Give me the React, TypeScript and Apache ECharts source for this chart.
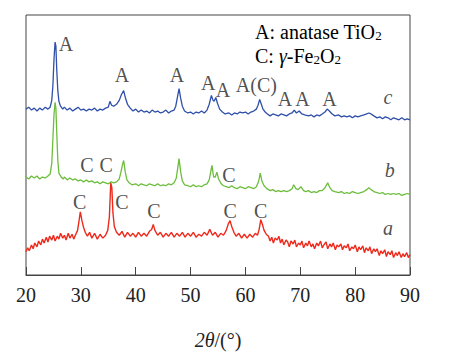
import React, { useEffect, useRef } from "react";
import * as echarts from "echarts";

const xRange = [20, 90];
const xStep = 10;

// sample c (blue), intensity in arbitrary units (offset stacked)
const curveC: [number, number][] = [
[20,171],[20.5,173],[21,170],[21.5,172],[22,169],[22.5,172],[23,170],[23.5,173],[24,171],[24.4,173],[24.7,180],[24.9,195],[25.1,222],[25.3,240],[25.45,236],[25.6,212],[25.8,190],[26,179],[26.3,174],[26.7,171],[27,173],[27.5,170],[28,172],[28.5,169],[29,171],[29.5,173],[30,170],[30.5,171],[31,169],[31.5,171],[32,170],[32.5,172],[33,169],[33.5,171],[34,170],[34.5,172],[35,173],[35.3,179],[35.6,175],[36,174],[36.5,176],[37,180],[37.4,186],[37.8,190],[38.1,183],[38.5,176],[39,172],[39.5,169],[40,171],[40.5,168],[41,170],[41.5,168],[42,169],[42.5,167],[43,170],[43.5,168],[44,169],[44.5,167],[45,168],[45.5,170],[46,167],[46.5,169],[47,170],[47.3,174],[47.6,183],[47.9,192],[48.2,182],[48.5,174],[48.9,169],[49.5,167],[50,168],[50.5,166],[51,168],[51.5,167],[52,169],[52.5,167],[53,170],[53.4,176],[53.8,185],[54.1,180],[54.3,179],[54.6,183],[54.9,177],[55.3,171],[55.8,168],[56.3,166],[57,167],[57.5,165],[58,167],[58.5,166],[59,168],[59.5,167],[60,168],[60.5,166],[61,168],[61.5,169],[62,171],[62.3,175],[62.6,181],[62.9,176],[63.2,171],[63.6,168],[64,166],[64.5,164],[65,166],[65.5,165],[66,164],[66.5,166],[67,165],[67.5,164],[68,166],[68.5,167],[68.9,170],[69.3,167],[69.8,169],[70.3,166],[70.8,165],[71.5,164],[72,165],[72.5,163],[73,165],[73.5,164],[74,166],[74.5,168],[74.9,171],[75.3,169],[75.8,166],[76.3,164],[77,165],[77.5,163],[78,164],[78.5,163],[79,164],[79.5,162],[80,164],[80.5,163],[81,164],[81.6,165],[82.1,166],[82.5,167],[82.9,166],[83.4,164],[84,162],[84.5,163],[85,161],[85.5,163],[86,162],[86.5,160],[87,162],[87.5,161],[88,160],[88.5,162],[89,160],[89.5,161],[90,160]
];

// sample b (green)
const curveB: [number, number][] = [
[20,101],[20.5,99],[21,102],[21.5,100],[22,102],[22.5,99],[23,101],[23.5,100],[24,102],[24.4,104],[24.7,115],[24.9,140],[25.1,165],[25.3,178],[25.45,172],[25.6,148],[25.8,118],[26,105],[26.4,101],[26.8,99],[27,101],[27.5,98],[28,100],[28.5,98],[29,99],[29.5,97],[30,98],[30.5,96],[31,98],[31.5,96],[32,97],[32.5,95],[33,96],[33.5,94],[34,96],[34.5,95],[35,94],[35.5,96],[36,95],[36.5,96],[37,99],[37.3,106],[37.6,114],[37.8,118],[38.1,106],[38.4,98],[38.8,95],[39.3,93],[40,94],[40.5,92],[41,94],[41.5,93],[42,92],[42.5,94],[43,93],[43.5,92],[44,94],[44.5,92],[45,93],[45.5,92],[46,94],[46.5,93],[47,95],[47.4,100],[47.7,112],[47.9,120],[48.2,106],[48.5,97],[48.9,93],[49.5,92],[50,91],[50.5,93],[51,91],[51.5,92],[52,91],[52.5,93],[53,94],[53.4,98],[53.7,107],[53.9,113],[54.2,101],[54.5,101],[54.8,106],[55.1,99],[55.6,94],[56,92],[56.5,91],[57,90],[57.5,92],[58,90],[58.5,89],[59,91],[59.5,90],[60,89],[60.5,91],[61,90],[61.5,89],[62,91],[62.3,95],[62.5,99],[62.7,105],[63,97],[63.4,92],[63.9,89],[64.5,87],[65,88],[65.5,86],[66,87],[66.5,86],[67,87],[67.5,86],[68,87],[68.5,89],[68.8,93],[69.2,89],[69.6,88],[70.1,91],[70.6,87],[71,86],[71.5,87],[72,85],[72.5,86],[73,85],[73.5,87],[74,87],[74.5,90],[75,95],[75.4,90],[75.8,87],[76.3,86],[77,85],[77.5,86],[78,84],[78.5,85],[79,84],[79.5,86],[80,85],[80.5,84],[81,85],[81.6,86],[82.1,88],[82.5,90],[82.9,88],[83.4,86],[84,85],[84.5,84],[85,85],[85.5,83],[86,84],[86.5,83],[87,84],[87.5,83],[88,84],[88.5,82],[89,83],[89.5,84],[90,83]
];

// sample a (red)
const curveA: [number, number][] = [
[20,24],[20.3,28],[20.6,25],[21,31],[21.3,27],[21.6,33],[22,29],[22.3,35],[22.7,31],[23,37],[23.3,33],[23.7,39],[24,34],[24.3,40],[24.7,36],[25,41],[25.3,35],[25.7,40],[26,37],[26.3,43],[26.7,38],[27,41],[27.3,36],[27.7,43],[28,38],[28.4,42],[28.7,37],[29,41],[29.4,46],[29.7,57],[29.9,65],[30.2,56],[30.5,49],[30.8,44],[31.2,40],[31.6,44],[32,38],[32.5,43],[33,37],[33.5,42],[34,38],[34.5,41],[34.9,46],[35.2,60],[35.45,95],[35.65,90],[35.85,64],[36.1,50],[36.5,44],[37,41],[37.5,45],[38,39],[38.5,44],[39,40],[39.5,43],[40,39],[40.5,44],[41,40],[41.5,43],[42,40],[42.5,45],[42.9,47],[43.2,52],[43.5,46],[44,41],[44.5,44],[45,39],[45.5,43],[46,40],[46.5,44],[47,39],[47.5,43],[48,40],[48.5,44],[49,39],[49.5,43],[50,40],[50.5,44],[51,39],[51.5,42],[52,40],[52.5,44],[53,41],[53.5,47],[54,41],[54.5,44],[55,39],[55.5,43],[56,41],[56.5,46],[56.9,53],[57.2,56],[57.5,50],[57.9,44],[58.3,40],[58.8,43],[59.3,38],[59.8,42],[60.3,38],[60.8,42],[61.3,39],[61.8,43],[62.2,41],[62.5,47],[62.8,57],[63.1,52],[63.4,46],[63.8,42],
[64.2,40],[64.5,35],[64.8,39],[65.1,33],[65.4,38],[65.8,36],[66.1,40],[66.4,33],[66.7,37],[67,31],[67.4,36],[67.7,34],[68,29],[68.3,35],[68.7,32],[69,36],[69.3,29],[69.7,33],[70,31],[70.3,35],[70.6,28],[71,33],[71.3,30],[71.6,35],[72,29],[72.3,32],[72.6,27],[73,33],[73.3,30],[73.7,35],[74,28],[74.3,31],[74.7,34],[75,27],[75.4,32],[75.7,29],[76,33],[76.4,26],[76.7,31],[77,29],[77.4,32],[77.7,26],[78,30],[78.4,28],[78.7,32],[79,25],[79.4,29],[79.7,27],[80,31],[80.4,24],[80.7,29],[81,26],[81.4,30],[81.7,23],[82,28],[82.4,25],[82.7,29],[83,22],[83.4,27],[83.7,24],[84,27],[84.4,20],[84.7,25],[85,22],[85.4,26],[85.7,19],[86,24],[86.4,21],[86.7,25],[87,18],[87.4,23],[87.7,20],[88,24],[88.4,18],[88.7,22],[89,19],[89.4,23],[89.7,18],[90,21]
];

// peak annotations: [text, 2theta, intensity]
const peakMarks: [string, number, number][] = [
  ["A", 27.3, 238],
  ["A", 37.5, 206],
  ["A", 47.5, 206],
  ["A", 53.2, 198],
  ["A", 55.9, 191],
  ["A(C)", 62.0, 196],
  ["A", 67.2, 181],
  ["A", 70.4, 181],
  ["A", 75.3, 181],
  ["C", 31.1, 113],
  ["C", 34.6, 113],
  ["C", 57.0, 103],
  ["C", 29.8, 75],
  ["C", 37.5, 75],
  ["C", 43.3, 66],
  ["C", 57.2, 66],
  ["C", 62.8, 66],
];

// curve names: [text, 2theta, intensity]
const curveNames: [string, number, number][] = [
  ["c", 86.0, 183],
  ["b", 86.3, 108],
  ["a", 86.0, 48],
];

const SERIF = "Liberation Serif";

export default function App() {
  const ref = useRef<HTMLDivElement>(null);
  useEffect(() => {
    if (!ref.current) return;
    const chart = echarts.init(ref.current, undefined, { renderer: "svg" });
    const lineBase = {
      type: "line" as const,
      showSymbol: false,
      symbol: "none",
      smooth: false,
      silent: true,
    };
    chart.setOption({
      animation: false,
      textStyle: { fontFamily: SERIF },
      grid: {
        left: 26,
        right: 48,
        top: 15,
        bottom: 72,
        show: true,
        borderColor: "#444",
        borderWidth: 1,
        backgroundColor: "transparent",
      },
      xAxis: {
        type: "value",
        min: xRange[0],
        max: xRange[1],
        interval: xStep,
        axisLine: { show: true, lineStyle: { color: "#444", width: 1 } },
        axisTick: { show: true, inside: true, length: 8, lineStyle: { color: "#444" } },
        splitLine: { show: false },
        axisLabel: { fontFamily: SERIF, fontSize: 20, color: "#222", margin: 10 },
        name: "{i|2θ}/(°)",
        nameLocation: "middle",
        nameGap: 55,
        nameTextStyle: {
          fontFamily: SERIF,
          fontSize: 20,
          color: "#222",
          rich: { i: { fontFamily: SERIF, fontSize: 20, fontStyle: "italic", color: "#222" } },
        },
      },
      yAxis: { type: "value", min: 0, max: 268, show: false, splitLine: { show: false } },
      series: [
        { ...lineBase, name: "a", data: curveA, lineStyle: { color: "#ee2a1c", width: 1.4 } },
        { ...lineBase, name: "b", data: curveB, lineStyle: { color: "#6cbd3c", width: 1.3 } },
        { ...lineBase, name: "c", data: curveC, lineStyle: { color: "#2f4fa9", width: 1.3 } },
        {
          type: "scatter",
          data: peakMarks.map((m) => ({ value: [m[1], m[2]], name: m[0] })),
          symbolSize: 1,
          itemStyle: { color: "rgba(0,0,0,0)" },
          silent: true,
          z: 5,
          label: {
            show: true,
            position: "inside",
            formatter: (p: any) => p.name,
            fontFamily: SERIF,
            fontSize: 20,
            color: "#222",
          },
        },
        {
          type: "scatter",
          data: curveNames.map((m) => ({ value: [m[1], m[2]], name: m[0] })),
          symbolSize: 1,
          itemStyle: { color: "rgba(0,0,0,0)" },
          silent: true,
          z: 5,
          label: {
            show: true,
            position: "inside",
            formatter: (p: any) => p.name,
            fontFamily: SERIF,
            fontSize: 20,
            fontStyle: "italic",
            color: "#222",
          },
        },
      ],
      graphic: [
        {
          type: "text",
          left: 255,
          top: 22,
          silent: true,
          style: {
            text: "{n|A: anatase TiO}{s|2}",
            rich: {
              n: { fontFamily: SERIF, fontSize: 20, color: "#222", lineHeight: 22, verticalAlign: "bottom" },
              s: { fontFamily: SERIF, fontSize: 13, color: "#222", lineHeight: 12, verticalAlign: "bottom" },
            },
          },
        },
        {
          type: "text",
          left: 255,
          top: 46,
          silent: true,
          style: {
            text: "{n|C: }{i|γ}{n|-Fe}{s|2}{n|O}{s|2}",
            rich: {
              n: { fontFamily: SERIF, fontSize: 20, color: "#222", lineHeight: 22, verticalAlign: "bottom" },
              i: { fontFamily: SERIF, fontSize: 20, fontStyle: "italic", color: "#222", lineHeight: 22, verticalAlign: "bottom" },
              s: { fontFamily: SERIF, fontSize: 13, color: "#222", lineHeight: 12, verticalAlign: "bottom" },
            },
          },
        },
      ],
    });
    return () => chart.dispose();
  }, []);
  return <div ref={ref} style={{ width: 458, height: 355, position: "absolute", left: 0, top: 0 }} />;
}
